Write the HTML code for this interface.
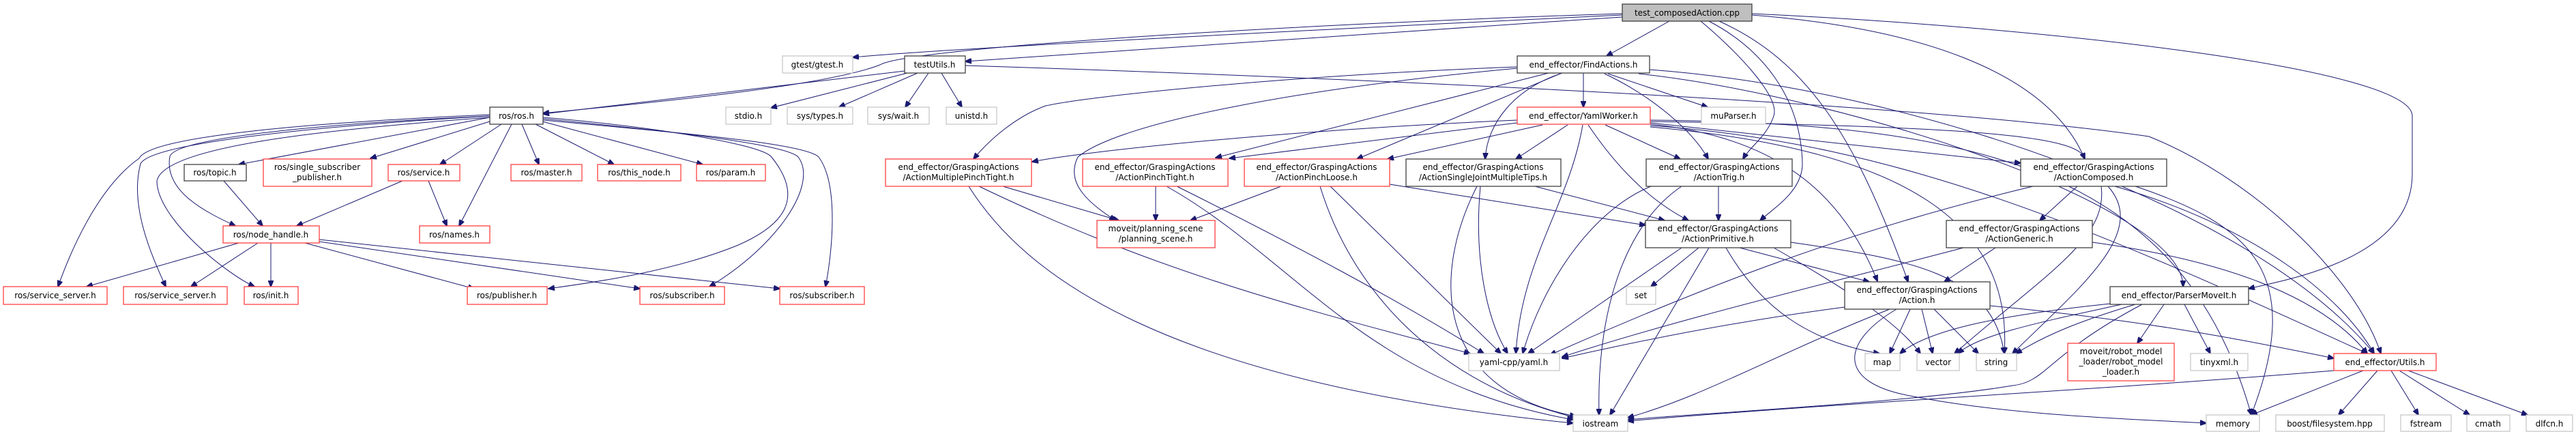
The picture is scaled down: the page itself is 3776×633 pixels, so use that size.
<!DOCTYPE html>
<html><head><meta charset="utf-8"><style>
html,body{margin:0;padding:0;background:#fff;}
svg{display:block;}
text{font-family:"DejaVu Sans","Liberation Sans",sans-serif;font-size:12px;fill:#000;text-anchor:middle;}
.b{fill:#fff;stroke:#404040;stroke-width:1.3}
.r{fill:#fff;stroke:#ff4040;stroke-width:1.3}
.g{fill:#fff;stroke:#c8c8c8;stroke-width:1.3}
.root{fill:#bfbfbf;stroke:#404040;stroke-width:1.3}
path{fill:none;stroke:#191970;stroke-width:1}
</style></head><body>
<svg width="3776" height="633" viewBox="0 0 3776 633" xmlns="http://www.w3.org/2000/svg">
<defs><marker id="a" markerWidth="10" markerHeight="8" refX="9" refY="4" orient="auto" markerUnits="userSpaceOnUse"><polygon points="0,0 10,4 0,8" fill="#191970" stroke="#191970"/></marker></defs>
<g marker-end="url(#a)">
<!-- cpp -->
<path d="M2378,22 C2000,40 1400,70 1250,84"/>
<path d="M2378,25 C2000,50 1600,75 1415,90"/>
<path d="M2378,20 C1900,35 1330,70 1290,95 C1200,130 900,155 796,166"/>
<path d="M2447,31 L2355,82"/>
<path d="M2493,31 C2540,70 2610,140 2600,170 C2590,200 2565,215 2555,233"/>
<path d="M2505,31 C2580,70 2640,140 2642,240 C2642,280 2600,305 2580,323"/>
<path d="M2520,31 C2650,90 2720,200 2797,413"/>
<path d="M2568,22 C2800,40 3000,100 3056,233"/>
<path d="M2568,20 C3000,40 3536,100 3536,170 L3536,255 C3536,380 3350,410 3296,423"/>
<!-- testUtils -->
<path d="M1326,104 C1100,130 900,155 796,167"/>
<path d="M1330,107 L1130,158"/>
<path d="M1345,107 L1230,157"/>
<path d="M1361,107 L1327,157"/>
<path d="M1380,107 L1410,157"/>
<path d="M1415,96 C2000,115 2800,150 3150,200 C3300,260 3450,400 3490,518"/>
<!-- ros.h -->
<path d="M718,172 L350,241"/>
<path d="M718,178 L543,232"/>
<path d="M735,182 L645,241"/>
<path d="M718,170 C500,180 260,200 249,229 C240,280 300,310 345,331"/>
<path d="M718,168 C450,180 220,200 204,232 C150,270 110,350 85,420"/>
<path d="M718,170 C460,185 220,210 206,240 C190,300 220,370 243,420"/>
<path d="M718,172 C470,190 240,215 230,265 C230,320 330,400 373,420"/>
<path d="M750,182 L673,331"/>
<path d="M765,182 L790,241"/>
<path d="M785,182 L900,241"/>
<path d="M795,178 L1030,241"/>
<path d="M796,172 C950,185 1110,210 1130,229 C1180,290 1150,330 1080,360 C980,400 860,415 804,423"/>
<path d="M796,174 C960,190 1150,210 1170,230 C1200,270 1140,360 1040,420"/>
<path d="M796,176 C1000,195 1180,210 1200,230 C1230,270 1220,370 1210,420"/>
<!-- node_handle -->
<path d="M350,356 L127,420"/>
<path d="M378,356 L280,420"/>
<path d="M397,356 L397,420"/>
<path d="M447,356 L695,423"/>
<path d="M468,354 L938,423"/>
<path d="M468,351 L1143,423"/>
<path d="M328,265 L385,331"/>
<path d="M590,265 L435,331"/>
<path d="M628,265 L655,331"/>
<!-- FindActions -->
<path d="M2321,107 L2321,157"/>
<path d="M2224,98 C1900,110 1600,140 1533,155 C1490,170 1450,205 1427,233"/>
<path d="M2224,100 C1900,130 1640,180 1580,230 C1560,270 1600,300 1635,323"/>
<path d="M2270,107 L1782,231"/>
<path d="M2287,108 L1989,233"/>
<path d="M2290,107 C2220,130 2180,180 2177,233"/>
<path d="M2352,108 C2420,140 2480,190 2504,233"/>
<path d="M2357,108 L2503,157"/>
<path d="M2418,102 C2800,130 3300,300 3480,518"/>
<path d="M2402,108 C2700,140 3200,300 3200,420"/>
<!-- Yaml -->
<path d="M2224,180 L1802,232"/>
<path d="M2224,176 C1900,190 1600,220 1513,237"/>
<path d="M2261,183 L2034,233"/>
<path d="M2298,183 L2222,233"/>
<path d="M2353,183 L2463,233"/>
<path d="M2328,183 C2380,260 2430,300 2475,323"/>
<path d="M2320,183 C2300,300 2230,380 2222,518"/>
<path d="M2419,178 C2900,185 3050,200 3056,233 M2419,180 L2962,239"/>
<path d="M2419,182 C2600,200 2700,280 2752,412"/>
<path d="M2419,184 C2800,210 3100,350 3470,518"/>
<path d="M2419,186 C2800,220 2950,330 2938,518"/>
<path d="M2419,176 C2900,180 3200,250 3300,608"/>
<!-- MPT -->
<path d="M1470,273 L1640,323"/>
<path d="M1435,273 C1700,400 1900,450 2155,518"/>
<path d="M1420,273 C1500,400 1700,560 2306,620"/>
<!-- PT -->
<path d="M1694,273 L1694,323"/>
<path d="M1725,273 C1900,360 2050,440 2175,518"/>
<path d="M1710,273 C1900,380 2000,560 2306,615"/>
<!-- PL -->
<path d="M1878,273 L1745,323"/>
<path d="M2037,270 L2412,330"/>
<path d="M1950,273 L2200,518"/>
<path d="M1935,273 C1980,420 2100,560 2310,612"/>
<!-- SJ -->
<path d="M2170,273 C2160,380 2180,470 2210,518"/>
<path d="M2165,273 C2100,400 2100,570 2310,610"/>
<path d="M2250,273 L2440,323"/>
<!-- Trig -->
<path d="M2519,273 L2519,323"/>
<path d="M2420,273 C2330,310 2260,420 2232,518"/>
<path d="M2465,273 C2380,330 2340,460 2344,608"/>
<!-- Primitive -->
<path d="M2490,363 L2420,420"/>
<path d="M2465,363 L2240,518"/>
<path d="M2505,363 L2360,608"/>
<path d="M2550,363 L2740,413"/>
<path d="M2530,363 C2580,450 2650,500 2755,518"/>
<path d="M2600,363 C2700,420 2780,470 2815,518"/>
<path d="M2625,355 C2800,380 2920,400 2938,518"/>
<!-- Composed -->
<path d="M3045,273 L2990,323"/>
<path d="M2980,273 C2700,340 2500,420 2272,520"/>
<path d="M3080,273 C3090,350 3000,400 2865,518"/>
<path d="M3090,273 C3150,340 3050,420 2950,518"/>
<path d="M3100,273 C3300,330 3430,430 3480,518"/>
<path d="M3130,273 C3300,330 3380,400 3300,608"/>
<!-- Generic -->
<path d="M2925,363 L2850,413"/>
<path d="M2878,363 C2700,410 2450,470 2290,523"/>
<path d="M3067,355 C3250,380 3400,430 3470,518"/>
<!-- Action.h -->
<path d="M2800,453 L2770,518"/>
<path d="M2817,453 L2833,518"/>
<path d="M2835,453 L2900,518"/>
<path d="M2704,450 C2550,470 2400,500 2290,525"/>
<path d="M2770,453 C2600,520 2500,580 2386,612"/>
<path d="M2780,453 C2700,500 2690,560 2800,580 C2950,610 3150,615 3234,620"/>
<path d="M2917,448 C3150,470 3300,500 3421,525"/>
<!-- Parser -->
<path d="M3172,446 L3133,503"/>
<path d="M3202,446 L3240,518"/>
<path d="M3093,445 C2950,460 2830,480 2785,518"/>
<path d="M3110,446 C3000,470 2900,490 2870,518"/>
<path d="M3130,446 C3050,470 3000,490 2955,518"/>
<path d="M3140,446 C3000,520 3000,560 2950,565 C2800,590 2500,605 2386,615"/>
<!-- Utils -->
<path d="M3464,543 L3300,608"/>
<path d="M3485,543 L3428,608"/>
<path d="M3505,543 L3545,608"/>
<path d="M3517,543 L3620,608"/>
<path d="M3530,543 L3705,608"/>
<path d="M3421,543 C3100,570 2700,590 2386,617"/>
</g>
<!-- nodes -->
<rect class="root" x="2378" y="6" width="190" height="25"/><text x="2473" y="23">test_composedAction.cpp</text>
<rect class="g" x="1147" y="82" width="103" height="25"/><text x="1198" y="99">gtest/gtest.h</text>
<rect class="b" x="1326" y="82" width="89" height="25"/><text x="1370" y="99">testUtils.h</text>
<rect class="b" x="2224" y="82" width="194" height="25"/><text x="2321" y="99">end_effector/FindActions.h</text>
<rect class="b" x="718" y="157" width="78" height="25"/><text x="757" y="174">ros/ros.h</text>
<rect class="g" x="1064" y="157" width="66" height="25"/><text x="1097" y="174">stdio.h</text>
<rect class="g" x="1154" y="157" width="96" height="25"/><text x="1202" y="174">sys/types.h</text>
<rect class="g" x="1272" y="157" width="90" height="25"/><text x="1317" y="174">sys/wait.h</text>
<rect class="g" x="1387" y="157" width="74" height="25"/><text x="1424" y="174">unistd.h</text>
<rect class="r" x="2224" y="157" width="195" height="25"/><text x="2321" y="174">end_effector/YamlWorker.h</text>
<rect class="g" x="2494" y="157" width="94" height="25"/><text x="2541" y="174">muParser.h</text>
<rect class="b" x="270" y="241" width="91" height="24"/><text x="315" y="257">ros/topic.h</text>
<rect class="r" x="386" y="233" width="159" height="40"/><text x="465" y="249">ros/single_subscriber</text><text x="465" y="264">_publisher.h</text>
<rect class="r" x="569" y="241" width="105" height="24"/><text x="621" y="257">ros/service.h</text>
<rect class="r" x="749" y="241" width="104" height="24"/><text x="801" y="257">ros/master.h</text>
<rect class="r" x="876" y="241" width="122" height="24"/><text x="937" y="257">ros/this_node.h</text>
<rect class="r" x="1021" y="241" width="101" height="24"/><text x="1071" y="257">ros/param.h</text>
<rect class="r" x="1298" y="233" width="214" height="40"/><text x="1405" y="249">end_effector/GraspingActions</text><text x="1405" y="264">/ActionMultiplePinchTight.h</text>
<rect class="r" x="1587" y="233" width="213" height="40"/><text x="1693" y="249">end_effector/GraspingActions</text><text x="1693" y="264">/ActionPinchTight.h</text>
<rect class="r" x="1824" y="233" width="213" height="40"/><text x="1930" y="249">end_effector/GraspingActions</text><text x="1930" y="264">/ActionPinchLoose.h</text>
<rect class="b" x="2061" y="233" width="227" height="40"/><text x="2174" y="249">end_effector/GraspingActions</text><text x="2174" y="264">/ActionSingleJointMultipleTips.h</text>
<rect class="b" x="2413" y="233" width="214" height="40"/><text x="2520" y="249">end_effector/GraspingActions</text><text x="2520" y="264">/ActionTrig.h</text>
<rect class="b" x="2962" y="233" width="214" height="40"/><text x="3069" y="249">end_effector/GraspingActions</text><text x="3069" y="264">/ActionComposed.h</text>
<rect class="r" x="327" y="331" width="141" height="25"/><text x="397" y="348">ros/node_handle.h</text>
<rect class="r" x="615" y="331" width="103" height="25"/><text x="666" y="348">ros/names.h</text>
<rect class="r" x="1608" y="323" width="173" height="40"/><text x="1694" y="339">moveit/planning_scene</text><text x="1694" y="354">/planning_scene.h</text>
<rect class="b" x="2412" y="323" width="213" height="40"/><text x="2518" y="339">end_effector/GraspingActions</text><text x="2518" y="354">/ActionPrimitive.h</text>
<rect class="b" x="2853" y="323" width="214" height="40"/><text x="2960" y="339">end_effector/GraspingActions</text><text x="2960" y="354">/ActionGeneric.h</text>
<rect class="r" x="5" y="420" width="152" height="26"/><text x="81" y="437">ros/service_server.h</text>
<rect class="r" x="181" y="420" width="152" height="26"/><text x="257" y="437">ros/service_server.h</text>
<rect class="r" x="358" y="420" width="79" height="26"/><text x="397" y="437">ros/init.h</text>
<rect class="r" x="685" y="420" width="117" height="26"/><text x="743" y="437">ros/publisher.h</text>
<rect class="r" x="938" y="420" width="124" height="26"/><text x="1000" y="437">ros/subscriber.h</text>
<rect class="r" x="1143" y="420" width="124" height="26"/><text x="1205" y="437">ros/subscriber.h</text>
<rect class="g" x="2384" y="420" width="43" height="26"/><text x="2405" y="437">set</text>
<rect class="b" x="2704" y="413" width="213" height="40"/><text x="2810" y="429">end_effector/GraspingActions</text><text x="2810" y="444">/Action.h</text>
<rect class="b" x="3093" y="420" width="203" height="26"/><text x="3194" y="437">end_effector/ParserMoveIt.h</text>
<rect class="g" x="2153" y="518" width="133" height="25"/><text x="2219" y="535">yaml-cpp/yaml.h</text>
<rect class="g" x="2734" y="518" width="51" height="25"/><text x="2759" y="535">map</text>
<rect class="g" x="2810" y="518" width="62" height="25"/><text x="2841" y="535">vector</text>
<rect class="g" x="2897" y="518" width="59" height="25"/><text x="2926" y="535">string</text>
<rect class="r" x="3031" y="503" width="156" height="55"/><text x="3109" y="519">moveit/robot_model</text><text x="3109" y="534">_loader/robot_model</text><text x="3109" y="549">_loader.h</text>
<rect class="g" x="3211" y="518" width="84" height="25"/><text x="3253" y="535">tinyxml.h</text>
<rect class="r" x="3421" y="518" width="150" height="25"/><text x="3496" y="535">end_effector/Utils.h</text>
<rect class="g" x="2306" y="608" width="80" height="24"/><text x="2346" y="625">iostream</text>
<rect class="g" x="3234" y="608" width="78" height="24"/><text x="3273" y="625">memory</text>
<rect class="g" x="3336" y="608" width="159" height="24"/><text x="3415" y="625">boost/filesystem.hpp</text>
<rect class="g" x="3519" y="608" width="74" height="24"/><text x="3556" y="625">fstream</text>
<rect class="g" x="3616" y="608" width="63" height="24"/><text x="3647" y="625">cmath</text>
<rect class="g" x="3703" y="608" width="68" height="24"/><text x="3737" y="625">dlfcn.h</text>
</svg>
</body></html>
